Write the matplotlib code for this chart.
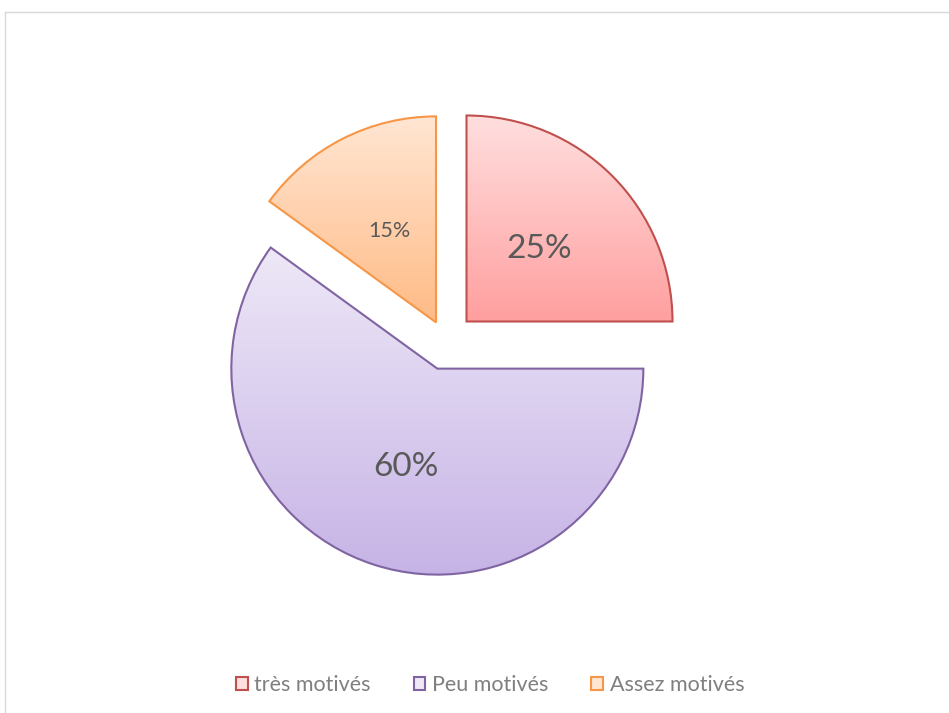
import matplotlib.pyplot as plt
import numpy as np
from matplotlib.colors import LinearSegmentedColormap
from matplotlib.lines import Line2D
from matplotlib.patches import Rectangle

labels = ['très motivés', 'Peu motivés', 'Assez motivés']
values = [25, 60, 15]
pct_labels = ['25%', '60%', '15%']
pct_sizes = [24, 24, 15.5]
edge_colors = ['#C0504D', '#8064A2', '#F79646']
top_colors = ['#FFDFDF', '#EEE8F7', '#FFE6D3']
bottom_colors = ['#FF9F9F', '#C6B3E6', '#FFBB86']

plt.rcParams['font.family'] = ['Lato', 'DejaVu Sans']

fig = plt.figure(figsize=(9.49, 7.13), dpi=100)
ax = fig.add_axes([0, 0, 1, 1])

center = (446, 371)
radius = 206
wedges, _ = ax.pie(values, startangle=90, counterclock=False,
                   explode=[29, 28, 22], center=center, radius=radius,
                   colors=['none'] * 3, frame=True,
                   wedgeprops=dict(linewidth=1.5))
ax.set_aspect('equal')
ax.axis('off')

for w, ec, tc, bc, txt, fs in zip(wedges, edge_colors, top_colors,
                                  bottom_colors, pct_labels, pct_sizes):
    w.set_edgecolor(ec)
    w.set_zorder(3)
    # vertical gradient clipped to the wedge
    verts = w.get_patch_transform().transform(w.get_path().vertices)
    x0, x1 = verts[:, 0].min(), verts[:, 0].max()
    y0, y1 = verts[:, 1].min(), verts[:, 1].max()
    cmap = LinearSegmentedColormap.from_list('g', [bc, tc])
    grad = np.linspace(0, 1, 256).reshape(-1, 1)
    im = ax.imshow(grad, cmap=cmap, extent=[x0, x1, y0, y1],
                   origin='lower', aspect='auto', zorder=2)
    im.set_clip_path(w)
    # percentage label
    ang = np.deg2rad((w.theta1 + w.theta2) / 2)
    cx, cy = w.center
    r = 0.5 * radius
    ax.text(cx + r * np.cos(ang), cy + r * np.sin(ang), txt,
            ha='center', va='center', fontsize=fs, color='#595959', zorder=4)

ax.set_xlim(0, 949)
ax.set_ylim(0, 713)

handles = [Rectangle((0, 0), 1, 1, facecolor=tc, edgecolor=ec, linewidth=1.5)
           for tc, ec in zip(top_colors, edge_colors)]
fig.legend(handles, labels, loc='center', bbox_to_anchor=(490 / 949, 1 - 685 / 713),
           ncol=3, frameon=False, fontsize=15.5, labelcolor='#7F7F7F',
           handlelength=0.55, handleheight=0.55, handletextpad=0.3,
           columnspacing=2.0)

# chart area border (top and left edges visible)
fig.add_artist(Line2D([5 / 949, 5 / 949], [0, 1 - 12 / 713], color='#D9D9D9', lw=1))
fig.add_artist(Line2D([5 / 949, 1], [1 - 12 / 713, 1 - 12 / 713], color='#D9D9D9', lw=1))

fig.savefig('out.png', dpi=100)
